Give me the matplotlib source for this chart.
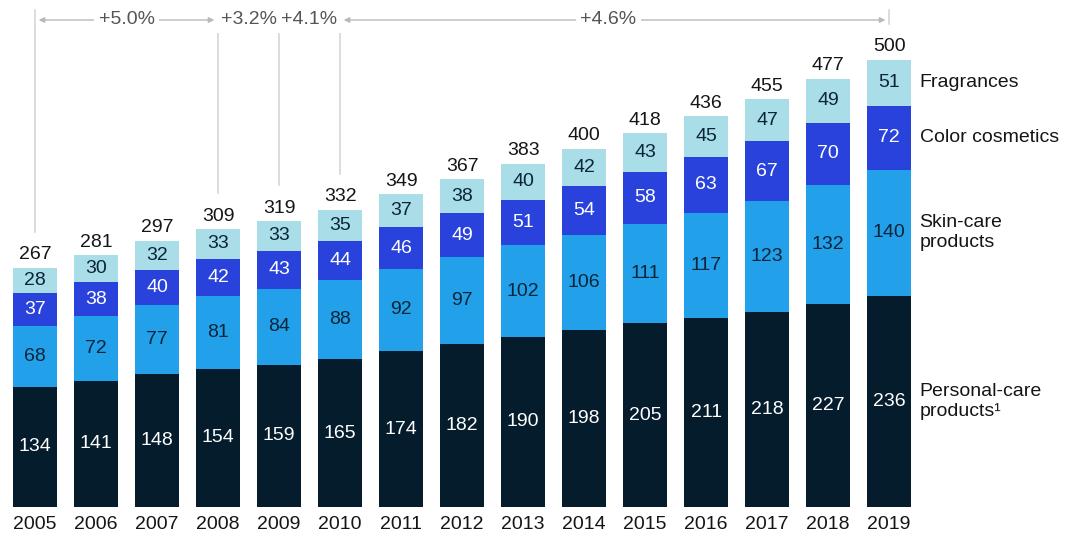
import matplotlib
matplotlib.use("Agg")
import matplotlib.pyplot as plt
import numpy as np

plt.rcParams["font.family"] = ["Liberation Sans", "DejaVu Sans"]

# ---- data -------------------------------------------------------------------
YEARS = [str(y) for y in range(2005, 2020)]
PERSONAL = [134, 141, 148, 154, 159, 165, 174, 182, 190, 198, 205, 211, 218, 227, 236]
SKIN = [68, 72, 77, 81, 84, 88, 92, 97, 102, 106, 111, 117, 123, 132, 140]
COLOR = [37, 38, 40, 42, 43, 44, 46, 49, 51, 54, 58, 63, 67, 70, 72]
FRAG = [28, 30, 32, 33, 33, 35, 37, 38, 40, 42, 43, 45, 47, 49, 51]
TOTALS = [267, 281, 297, 309, 319, 332, 349, 367, 383, 400, 418, 436, 455, 477, 500]
SERIES_NAMES = ["Personal-care\nproducts¹", "Skin-care\nproducts",
                "Color cosmetics", "Fragrances"]
# CAGR periods: (start year index, end year index, label)
PERIODS = [(0, 3, "+5.0%"), (3, 4, "+3.2%"), (4, 5, "+4.1%"), (5, 14, "+4.6%")]

# ---- style ------------------------------------------------------------------
NAVY = "#051c2c"
SKY = "#22a0ea"
ROYAL = "#2942dc"
ICE = "#a9dee9"
GREY = "#b9b9b9"
TXT = "#151515"
COLORS = [NAVY, SKY, ROYAL, ICE]
LABEL_COLORS = ["white", "#0b2538", "white", "#0b2538"]
FS = 14

fig = plt.figure(figsize=(10.66, 5.38), dpi=100)
ax = fig.add_axes([0, 0, 1, 1])
ax.set_xlim(-0.574, 16.9)
ax.set_ylim(-34.6, 565.8)
ax.axis("off")

x = np.arange(len(YEARS))
w = 0.72
bottom = np.zeros(len(YEARS))
for vals, col, lc in zip([PERSONAL, SKIN, COLOR, FRAG], COLORS, LABEL_COLORS):
    v = np.array(vals, dtype=float)
    ax.bar(x, v, w, bottom=bottom, color=col, lw=0)
    for xi, b, vi in zip(x, bottom, v):
        ax.text(xi, b + vi / 2, f"{int(vi)}", ha="center", va="center",
                fontsize=FS, color=lc)
    bottom += v

tops = bottom
for xi, t, tot in zip(x, tops, TOTALS):
    ax.text(xi, t + 5, f"{tot}", ha="center", va="bottom", fontsize=FS, color=TXT)
for xi, yr in zip(x, YEARS):
    ax.text(xi, -19, yr, ha="center", va="center", fontsize=FS, color=TXT)

# series labels at the right of the last bar
last = len(YEARS) - 1
b = 0
for vals, name in zip([PERSONAL, SKIN, COLOR, FRAG], SERIES_NAMES):
    ax.text(last + 0.5, b + vals[last] / 2, name, ha="left", va="center",
            fontsize=FS, color=TXT, linespacing=1.2)
    b += vals[last]

# CAGR brackets
y_arrow = 543.5
y_top = 555
marks = sorted({p[0] for p in PERIODS} | {p[1] for p in PERIODS})
for i in marks:
    lo = tops[i] + 40 if i != last else y_arrow - 4
    ax.plot([i, i], [lo, y_top], color="#d6d6d6", lw=1.2, zorder=1)
for s, e, lab in PERIODS:
    mid = (s + e) / 2 if e - s < 9 else 9.4
    if e - s > 1:
        for end in (s, e):
            ax.annotate("", xy=(end + (0.06 if end == s else -0.06), y_arrow),
                        xytext=(mid, y_arrow),
                        arrowprops=dict(arrowstyle="-|>", color=GREY, lw=1.0,
                                        mutation_scale=8, shrinkA=0, shrinkB=0))
    ax.text(mid, y_arrow, lab, ha="center", va="center", fontsize=FS, color="#555555",
            bbox=dict(facecolor="white", edgecolor="none", pad=3))

fig.savefig("out.png", dpi=100, facecolor="white")
